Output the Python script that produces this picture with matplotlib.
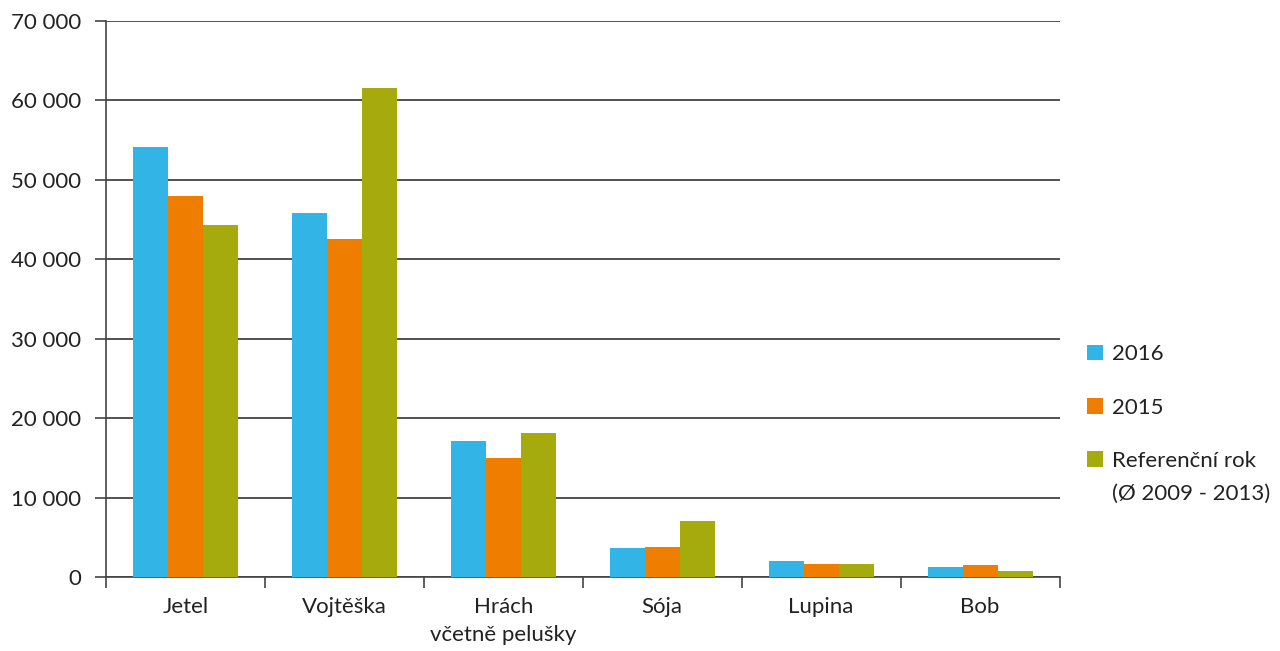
import numpy as np
import matplotlib
matplotlib.use("Agg")
import matplotlib.pyplot as plt
from matplotlib.ticker import FuncFormatter, FixedLocator

plt.rcParams["font.family"] = ["Lato", "DejaVu Sans"]

categories = ["Jetel", "Vojtěška", "Hrách\nvčetně pelušky", "Sója", "Lupina", "Bob"]
series_names = ["2016", "2015", "Referenční rok"]
ref_note = "(Ø 2009 - 2013)"
values_2016 = [54100, 45800, 17200, 3680, 2040, 1360]
values_2015 = [48000, 42500, 15000, 3800, 1700, 1570]
values_ref = [44300, 61600, 18200, 7080, 1660, 820]
colors = ["#33b4e6", "#ef7d00", "#a5ab0d"]

fig = plt.figure(figsize=(12.8, 6.51), dpi=100)
ax = fig.add_axes([0.0828, 0.113, 0.745, 0.855])

x = np.arange(len(categories))
w = 0.22
for i, (vals, name, col) in enumerate(zip([values_2016, values_2015, values_ref], series_names, colors)):
    ax.bar(x + (i - 1) * w, vals, width=w, color=col, label=name, zorder=3)

ax.set_xlim(-0.5, len(categories) - 0.5)
ax.set_ylim(0, 70000)
ax.set_yticks(np.arange(0, 70001, 10000))
ax.yaxis.set_major_formatter(FuncFormatter(lambda v, p: f"{int(v):,}".replace(",", " ")))
ax.grid(axis="y", color="#333333", linewidth=1.2, zorder=0)

ax.set_xticks(x)
ax.set_xticklabels(categories, linespacing=1.5)
ax.xaxis.set_minor_locator(FixedLocator(np.arange(-0.5, len(categories), 1)))
ax.tick_params(axis="x", which="major", length=0, pad=14, labelsize=16, colors="#222222")
ax.tick_params(axis="x", which="minor", length=8, width=1.2, color="#444444")
ax.tick_params(axis="y", length=8, width=1.2, color="#444444", labelsize=16, pad=10, labelcolor="#222222")

for s in ["top", "right"]:
    ax.spines[s].set_visible(False)
for s in ["left", "bottom"]:
    ax.spines[s].set_color("#444444")
    ax.spines[s].set_linewidth(1.2)

leg = ax.legend(loc="center left", bbox_to_anchor=(1.008, 0.305), frameon=False, fontsize=16,
                handlelength=0.7, handleheight=0.7, handletextpad=0.4, labelspacing=1.5)
for t in leg.get_texts():
    t.set_color("#222222")

# second line of the reference-year label, placed under the legend text
fig.canvas.draw()
bb = leg.get_texts()[2].get_window_extent().transformed(fig.transFigure.inverted())
fig.text(bb.x0, bb.y0 - 0.02, ref_note, fontsize=16, color="#222222", ha="left", va="top")

fig.savefig("out.png", dpi=100)
